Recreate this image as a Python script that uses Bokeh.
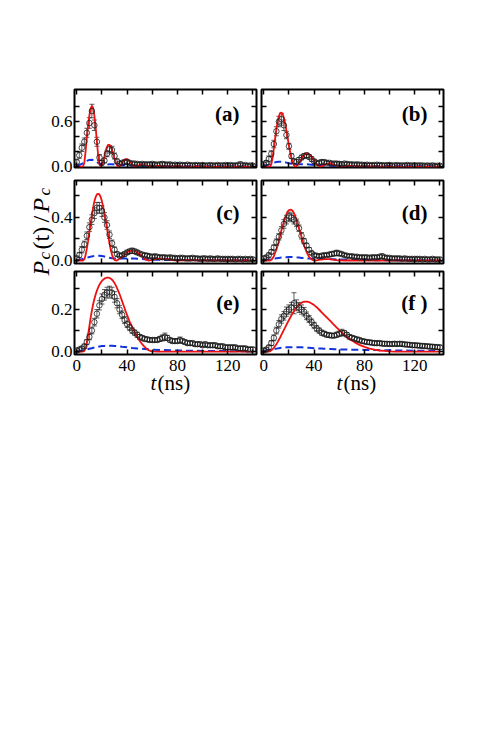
import math
from bokeh.plotting import figure
from bokeh.models import (Range1d, FixedTicker, PrintfTickFormatter, LinearAxis,
                          Label, Whisker, ColumnDataSource, TeeHead, CustomJSTickFormatter)
from bokeh.core.properties import value
from bokeh.layouts import column, row
from bokeh.embed import file_html
from bokeh.resources import INLINE

# ---------------- data ----------------
t_data = list(range(0, 141, 2))                               # measured points (ns)
t_fit = list(range(0, 61)) + list(range(64, 141, 4))          # red model curve
t_blue = list(range(0, 61, 2)) + list(range(70, 141, 10))     # blue dashed curve

data_a = [0.06, 0.15, 0.25, 0.33, 0.45, 0.58, 0.74, 0.55, 0.33, 0.12,
          0.05, 0.08, 0.17, 0.23, 0.22, 0.14, 0.07, 0.04, 0.05, 0.06,
          0.06, 0.05, 0.04, 0.04, 0.035, 0.03, 0.035, 0.03, 0.03, 0.03,
          0.035, 0.03, 0.025, 0.03, 0.035, 0.03, 0.025, 0.03, 0.02, 0.025,
          0.02, 0.025, 0.02, 0.02, 0.025, 0.02, 0.015, 0.02, 0.02, 0.015,
          0.02, 0.015, 0.015, 0.02, 0.015, 0.015, 0.02, 0.015, 0.015, 0.02,
          0.015, 0.02, 0.015, 0.015, 0.02, 0.03, 0.015, 0.02, 0.01, 0.015,
          0.01]
err_a = [0.03, 0.04, 0.05, 0.05, 0.06, 0.07, 0.09, 0.07, 0.06, 0.04,
         0.03, 0.03, 0.04, 0.05, 0.05, 0.04, 0.03, 0.02, 0.02, 0.025,
         0.025, 0.02, 0.02, 0.02, 0.02, 0.02, 0.02, 0.02, 0.02, 0.02,
         0.02, 0.02, 0.02, 0.02, 0.025, 0.02, 0.02, 0.02, 0.02, 0.02,
         0.02, 0.02, 0.02, 0.02, 0.02, 0.02, 0.02, 0.02, 0.02, 0.02,
         0.02, 0.02, 0.02, 0.02, 0.02, 0.02, 0.02, 0.02, 0.02, 0.02,
         0.02, 0.02, 0.02, 0.02, 0.02, 0.03, 0.02, 0.02, 0.02, 0.02,
         0.02]
red_a = [0, 0, 0, 0, 0, 0, 0.05, 0.2, 0.38, 0.55,
         0.68, 0.77, 0.81, 0.78, 0.68, 0.52, 0.33, 0.15, 0.03, 0.0,
         0.02, 0.07, 0.14, 0.21, 0.26, 0.29, 0.29, 0.27, 0.22, 0.16,
         0.1, 0.05, 0.015, 0.0, 0.005, 0.02, 0.045, 0.07, 0.09, 0.1,
         0.1, 0.09, 0.07, 0.05, 0.03, 0.012, 0.003, 0.0, 0.004, 0.012,
         0.02, 0.028, 0.032, 0.03, 0.025, 0.017, 0.008, 0.002, 0.0, 0.002,
         0.006,
         0.01, 0.005, 0.002, 0.003, 0.004, 0.002, 0.0, 0.001, 0.002, 0.001,
         0.0, 0.0, 0.0, 0.0, 0.0, 0.0, 0.0, 0.0, 0.0, 0.0]
blue_a = [0.015, 0.02, 0.035, 0.055, 0.075, 0.088, 0.09, 0.08, 0.06, 0.04,
          0.028, 0.025, 0.027, 0.03, 0.03, 0.028, 0.024, 0.02, 0.018, 0.017,
          0.016, 0.014, 0.012, 0.01, 0.009, 0.008, 0.007, 0.006, 0.006, 0.005,
          0.005,
          0.004, 0.003, 0.003, 0.003, 0.003, 0.003, 0.003, 0.003]

data_b = [0.03, 0.05, 0.1, 0.17, 0.3, 0.47, 0.6, 0.63, 0.55, 0.42,
          0.27, 0.14, 0.07, 0.06, 0.09, 0.12, 0.14, 0.15, 0.13, 0.1,
          0.07, 0.05, 0.05, 0.06, 0.06, 0.05, 0.05, 0.04, 0.04, 0.04,
          0.035, 0.03, 0.04, 0.035, 0.03, 0.03, 0.025, 0.03, 0.025, 0.025,
          0.02, 0.025, 0.02, 0.02, 0.02, 0.025, 0.02, 0.02, 0.015, 0.02,
          0.02, 0.015, 0.015, 0.02, 0.015, 0.015, 0.015, 0.02, 0.015, 0.015,
          0.015, 0.015, 0.015, 0.015, 0.01, 0.015, 0.01, 0.015, 0.01, 0.01,
          0.01]
err_b = [0.03, 0.03, 0.04, 0.04, 0.05, 0.06, 0.07, 0.08, 0.07, 0.05,
         0.04, 0.03, 0.03, 0.03, 0.03, 0.03, 0.03, 0.03, 0.03, 0.03,
         0.025, 0.02, 0.02, 0.03, 0.025, 0.02, 0.02, 0.02, 0.02, 0.02,
         0.03, 0.02, 0.02, 0.02, 0.02, 0.02, 0.02, 0.02, 0.02, 0.02,
         0.02, 0.02, 0.02, 0.02, 0.02, 0.02, 0.02, 0.02, 0.02, 0.02,
         0.02, 0.02, 0.02, 0.02, 0.02, 0.02, 0.02, 0.02, 0.02, 0.02,
         0.02, 0.02, 0.02, 0.02, 0.02, 0.02, 0.02, 0.02, 0.02, 0.02,
         0.02]
red_b = [0, 0, 0, 0, 0, 0, 0.03, 0.12, 0.24, 0.37,
         0.5, 0.6, 0.67, 0.71, 0.72, 0.7, 0.65, 0.57, 0.48, 0.38,
         0.28, 0.19, 0.11, 0.05, 0.015, 0.0, 0.005, 0.02, 0.045, 0.075,
         0.1, 0.13, 0.15, 0.165, 0.172, 0.172, 0.165, 0.15, 0.13, 0.105,
         0.08, 0.055, 0.033, 0.016, 0.005, 0.0, 0.003, 0.01, 0.02, 0.028,
         0.035, 0.04, 0.042, 0.041, 0.037, 0.03, 0.022, 0.014, 0.007, 0.002,
         0.0,
         0.005, 0.01, 0.005, 0.001, 0.002, 0.003, 0.002, 0.0, 0.001, 0.001,
         0.0, 0.0, 0.0, 0.0, 0.0, 0.0, 0.0, 0.0, 0.0, 0.0]
blue_b = [0.01, 0.015, 0.025, 0.038, 0.05, 0.06, 0.065, 0.065, 0.06, 0.052,
          0.043, 0.036, 0.032, 0.03, 0.03, 0.03, 0.03, 0.029, 0.027, 0.024,
          0.02, 0.017, 0.014, 0.012, 0.011, 0.01, 0.01, 0.009, 0.008, 0.007,
          0.006,
          0.005, 0.004, 0.004, 0.003, 0.003, 0.003, 0.003, 0.003]

data_c = [0.02, 0.05, 0.1, 0.15, 0.23, 0.31, 0.38, 0.44, 0.49, 0.49,
          0.46, 0.4, 0.33, 0.24, 0.16, 0.1, 0.06, 0.045, 0.05, 0.06,
          0.075, 0.085, 0.09, 0.085, 0.075, 0.065, 0.055, 0.05, 0.045, 0.04,
          0.035, 0.04, 0.035, 0.03, 0.03, 0.03, 0.025, 0.03, 0.025, 0.025,
          0.02, 0.025, 0.025, 0.02, 0.02, 0.02, 0.025, 0.02, 0.02, 0.015,
          0.02, 0.02, 0.015, 0.02, 0.015, 0.015, 0.02, 0.015, 0.015, 0.015,
          0.015, 0.015, 0.015, 0.01, 0.015, 0.015, 0.01, 0.015, 0.01, 0.015,
          0.01]
err_c = [0.02, 0.025, 0.03, 0.03, 0.035, 0.04, 0.045, 0.05, 0.05, 0.05,
         0.05, 0.045, 0.04, 0.035, 0.03, 0.025, 0.02, 0.015, 0.015, 0.02,
         0.02, 0.02, 0.025, 0.02, 0.02, 0.015, 0.015, 0.015, 0.02, 0.015,
         0.015, 0.015, 0.015, 0.015, 0.015, 0.015, 0.015, 0.015, 0.015, 0.015,
         0.015, 0.015, 0.015, 0.015, 0.015, 0.02, 0.015, 0.015, 0.015, 0.015,
         0.015, 0.015, 0.015, 0.015, 0.015, 0.015, 0.015, 0.015, 0.015, 0.015,
         0.015, 0.015, 0.015, 0.015, 0.015, 0.015, 0.015, 0.015, 0.015, 0.015,
         0.015]
red_c = [0, 0, 0, 0, 0, 0, 0.01, 0.05, 0.11, 0.18,
         0.26, 0.34, 0.42, 0.49, 0.55, 0.59, 0.615, 0.62, 0.615, 0.59,
         0.55, 0.5, 0.44, 0.37, 0.3, 0.23, 0.16, 0.1, 0.055, 0.022,
         0.005, 0.0, 0.002, 0.008, 0.016, 0.026, 0.037, 0.048, 0.058, 0.068,
         0.076, 0.082, 0.087, 0.09, 0.091, 0.09, 0.087, 0.082, 0.075, 0.066,
         0.056, 0.045, 0.034, 0.024, 0.015, 0.008, 0.003, 0.0, 0.001, 0.003,
         0.006,
         0.015, 0.018, 0.012, 0.004, 0.0, 0.002, 0.003, 0.002, 0.001, 0.0,
         0.0, 0.0, 0.0, 0.0, 0.0, 0.0, 0.0, 0.0, 0.0, 0.0]
blue_c = [0.005, 0.008, 0.012, 0.018, 0.025, 0.032, 0.038, 0.043, 0.045, 0.045,
          0.042, 0.037, 0.031, 0.025, 0.021, 0.019, 0.018, 0.018, 0.018, 0.019,
          0.019, 0.019, 0.019, 0.018, 0.017, 0.015, 0.013, 0.011, 0.009, 0.008,
          0.007,
          0.005, 0.004, 0.003, 0.003, 0.002, 0.002, 0.002, 0.002]

data_d = [0.02, 0.03, 0.05, 0.08, 0.12, 0.17, 0.22, 0.28, 0.34, 0.38,
          0.41, 0.4, 0.38, 0.35, 0.3, 0.23, 0.18, 0.14, 0.1, 0.07,
          0.05, 0.045, 0.04, 0.045, 0.05, 0.05, 0.055, 0.06, 0.065, 0.07,
          0.065, 0.06, 0.05, 0.045, 0.04, 0.04, 0.035, 0.035, 0.03, 0.03,
          0.03, 0.03, 0.025, 0.03, 0.03, 0.03, 0.035, 0.04, 0.03, 0.025,
          0.025, 0.02, 0.02, 0.02, 0.02, 0.015, 0.02, 0.015, 0.015, 0.015,
          0.015, 0.015, 0.015, 0.01, 0.015, 0.01, 0.01, 0.015, 0.01, 0.01,
          0.01]
err_d = [0.015, 0.015, 0.02, 0.02, 0.025, 0.03, 0.03, 0.035, 0.04, 0.04,
         0.04, 0.04, 0.04, 0.035, 0.03, 0.03, 0.025, 0.02, 0.02, 0.015,
         0.015, 0.015, 0.015, 0.015, 0.015, 0.015, 0.02, 0.02, 0.02, 0.025,
         0.02, 0.015, 0.015, 0.015, 0.015, 0.015, 0.015, 0.015, 0.015, 0.015,
         0.015, 0.015, 0.015, 0.015, 0.015, 0.015, 0.015, 0.02, 0.015, 0.015,
         0.015, 0.015, 0.015, 0.015, 0.015, 0.015, 0.015, 0.015, 0.015, 0.015,
         0.015, 0.015, 0.015, 0.015, 0.015, 0.015, 0.015, 0.015, 0.015, 0.015,
         0.015]
red_d = [0, 0, 0, 0, 0, 0, 0.005, 0.02, 0.04, 0.07,
         0.1, 0.14, 0.18, 0.23, 0.28, 0.32, 0.36, 0.4, 0.43, 0.455,
         0.468, 0.472, 0.47, 0.46, 0.44, 0.41, 0.38, 0.34, 0.3, 0.26,
         0.22, 0.18, 0.14, 0.11, 0.08, 0.055, 0.035, 0.02, 0.01, 0.004,
         0.001, 0.0, 0.001, 0.003, 0.005, 0.007, 0.009, 0.011, 0.012, 0.013,
         0.013, 0.013, 0.012, 0.011, 0.01, 0.008, 0.006, 0.004, 0.003, 0.002,
         0.001,
         0.0, 0.0, 0.0, 0.0, 0.0, 0.0, 0.0, 0.0, 0.0, 0.0,
         0.0, 0.0, 0.0, 0.0, 0.0, 0.0, 0.0, 0.0, 0.0, 0.0]
blue_d = [0.003, 0.005, 0.008, 0.012, 0.016, 0.02, 0.024, 0.027, 0.03, 0.031,
          0.032, 0.032, 0.031, 0.029, 0.027, 0.024, 0.022, 0.02, 0.018, 0.017,
          0.016, 0.015, 0.015, 0.015, 0.014, 0.014, 0.013, 0.012, 0.011, 0.01,
          0.009,
          0.006, 0.004, 0.003, 0.002, 0.002, 0.002, 0.002, 0.002]

data_e = [0.005, 0.01, 0.015, 0.025, 0.045, 0.07, 0.1, 0.14, 0.18, 0.22,
          0.25, 0.27, 0.28, 0.285, 0.28, 0.26, 0.23, 0.2, 0.175, 0.15,
          0.13, 0.115, 0.1, 0.09, 0.08, 0.07, 0.065, 0.06, 0.058, 0.055,
          0.055, 0.055, 0.055, 0.06, 0.065, 0.07, 0.065, 0.055, 0.05, 0.05,
          0.05, 0.055, 0.05, 0.045, 0.04, 0.04, 0.04, 0.035, 0.035, 0.035,
          0.03, 0.035, 0.03, 0.03, 0.03, 0.03, 0.025, 0.025, 0.025, 0.02,
          0.02, 0.02, 0.02, 0.02, 0.015, 0.015, 0.015, 0.015, 0.01, 0.01,
          0.01]
err_e = [0.008, 0.008, 0.01, 0.01, 0.012, 0.014, 0.016, 0.018, 0.02, 0.022,
         0.024, 0.025, 0.026, 0.026, 0.026, 0.025, 0.022, 0.02, 0.018, 0.016,
         0.015, 0.014, 0.013, 0.012, 0.012, 0.011, 0.011, 0.01, 0.01, 0.01,
         0.01, 0.01, 0.01, 0.012, 0.014, 0.018, 0.012, 0.01, 0.01, 0.01,
         0.01, 0.014, 0.01, 0.01, 0.01, 0.01, 0.01, 0.01, 0.01, 0.01,
         0.01, 0.01, 0.01, 0.01, 0.01, 0.01, 0.01, 0.01, 0.01, 0.01,
         0.01, 0.01, 0.01, 0.01, 0.01, 0.01, 0.01, 0.01, 0.01, 0.01,
         0.01]
red_e = [0, 0, 0, 0, 0, 0, 0.003, 0.015, 0.04, 0.08,
         0.12, 0.16, 0.195, 0.225, 0.25, 0.272, 0.29, 0.305, 0.318, 0.328,
         0.336, 0.342, 0.347, 0.35, 0.352, 0.352, 0.35, 0.347, 0.342, 0.335,
         0.326, 0.315, 0.302, 0.288, 0.273, 0.257, 0.24, 0.223, 0.206, 0.189,
         0.173, 0.158, 0.143, 0.13, 0.117, 0.104, 0.092, 0.081, 0.07, 0.06,
         0.051, 0.043, 0.035, 0.028, 0.022, 0.016, 0.011, 0.007, 0.004, 0.002,
         0.001,
         0.0, 0.0, 0.0, 0.0, 0.0, 0.0, 0.0, 0.0, 0.0, 0.0,
         0.0, 0.0, 0.0, 0.0, 0.0, 0.0, 0.0, 0.0, 0.0, 0.0]
blue_e = [0.002, 0.003, 0.005, 0.007, 0.01, 0.013, 0.016, 0.019, 0.022, 0.024,
          0.026, 0.027, 0.028, 0.028, 0.028, 0.027, 0.026, 0.025, 0.023, 0.022,
          0.02, 0.019, 0.017, 0.016, 0.015, 0.014, 0.013, 0.012, 0.011, 0.01,
          0.009,
          0.007, 0.005, 0.004, 0.003, 0.003, 0.002, 0.002, 0.002]

data_f = [0.005, 0.01, 0.02, 0.04, 0.065, 0.1, 0.13, 0.155, 0.17, 0.19,
          0.2, 0.21, 0.23, 0.22, 0.21, 0.2, 0.19, 0.17, 0.155, 0.14,
          0.125, 0.11, 0.1, 0.09, 0.085, 0.08, 0.078, 0.076, 0.076, 0.08,
          0.085, 0.09, 0.088, 0.08, 0.07, 0.066, 0.062, 0.058, 0.055, 0.05,
          0.048, 0.045, 0.044, 0.042, 0.04, 0.04, 0.04, 0.038, 0.037, 0.037,
          0.036, 0.036, 0.037, 0.036, 0.037, 0.036, 0.034, 0.033, 0.032, 0.03,
          0.03, 0.029, 0.028, 0.027, 0.026, 0.025, 0.024, 0.023, 0.022, 0.021,
          0.02]
err_f = [0.008, 0.008, 0.01, 0.012, 0.014, 0.016, 0.018, 0.02, 0.02, 0.022,
         0.022, 0.024, 0.05, 0.026, 0.024, 0.022, 0.02, 0.018, 0.016, 0.015,
         0.014, 0.013, 0.012, 0.012, 0.011, 0.011, 0.01, 0.01, 0.01, 0.012,
         0.012, 0.016, 0.012, 0.01, 0.01, 0.01, 0.01, 0.01, 0.01, 0.01,
         0.01, 0.01, 0.01, 0.01, 0.01, 0.01, 0.01, 0.01, 0.01, 0.01,
         0.01, 0.01, 0.01, 0.01, 0.01, 0.01, 0.01, 0.01, 0.01, 0.01,
         0.01, 0.01, 0.01, 0.01, 0.01, 0.01, 0.01, 0.01, 0.01, 0.01,
         0.01]
red_f = [0, 0, 0, 0, 0, 0.002, 0.006, 0.011, 0.018, 0.026,
         0.035, 0.045, 0.056, 0.067, 0.079, 0.091, 0.103, 0.115, 0.127, 0.139,
         0.15, 0.161, 0.172, 0.183, 0.193, 0.202, 0.21, 0.217, 0.223, 0.228,
         0.232, 0.235, 0.237, 0.238, 0.238, 0.237, 0.235, 0.232, 0.229, 0.225,
         0.221, 0.216, 0.211, 0.205, 0.199, 0.193, 0.187, 0.181, 0.175, 0.169,
         0.163, 0.157, 0.151, 0.145, 0.139, 0.132, 0.126, 0.12, 0.114, 0.108,
         0.102,
         0.08, 0.06, 0.045, 0.032, 0.022, 0.014, 0.009, 0.005, 0.003, 0.001,
         0.0, 0.0, 0.0, 0.0, 0.0, 0.0, 0.0, 0.0, 0.0, 0.0]
blue_f = [0.002, 0.004, 0.006, 0.009, 0.012, 0.014, 0.016, 0.018, 0.019, 0.02,
          0.021, 0.021, 0.021, 0.021, 0.02, 0.02, 0.019, 0.018, 0.018, 0.017,
          0.016, 0.015, 0.015, 0.014, 0.013, 0.013, 0.012, 0.012, 0.011, 0.011,
          0.01,
          0.009, 0.008, 0.007, 0.006, 0.005, 0.004, 0.004, 0.003]

panel_names = ["(a)", "(b)", "(c)", "(d)", "(e)", "(f )"]
x_major = [0, 40, 80, 120]
x_minor = [20, 60, 100, 140]
y_major = [[0, 0.6], [0, 0.4], [0, 0.2]]
y_minor = [[0.2, 0.4, 0.8], [0.2, 0.6], [0.1, 0.3]]
y_ranges = [(-0.013, 1.027), (-0.028, 0.744), (-0.014, 0.381)]

# ---------------- layout / style ----------------
SERIF = "'Liberation Serif', 'Times New Roman', serif"
FW = 182
FH = [78, 83, 83]
B_TOP = [89, 7, 4]
B_BOT = [14, 14, 22]
ROW_LIFT = [0, 8, 10]   # rows overlap the (empty) bottom border of the row above
YLAB_W = 80             # label canvas, overlapped by the grid on its right
YLAB_OVERLAP = 34       # -> grid starts at x = 46
LEFT_B = 28
XLAB_H = 30
XLAB_LIFT = 9
TICK_FS = "17px"
RED = "#ee1111"
BLUE = "#1133dd"
INK = "#1a1a1a"

series = [(data_a, err_a, red_a, blue_a), (data_b, err_b, red_b, blue_b),
          (data_c, err_c, red_c, blue_c), (data_d, err_d, red_d, blue_d),
          (data_e, err_e, red_e, blue_e), (data_f, err_f, red_f, blue_f)]

blank_fmt = CustomJSTickFormatter(code="return ''")


def style_axis(ax, major, minor, show_labels, fmt=None):
    ax.ticker = FixedTicker(ticks=major, minor_ticks=minor)
    ax.axis_line_color = None
    ax.major_tick_in = 5
    ax.major_tick_out = 0
    ax.minor_tick_in = 5
    ax.minor_tick_out = 0
    ax.major_tick_line_width = 1.5
    ax.minor_tick_line_width = 1.5
    ax.major_tick_line_color = "black"
    ax.minor_tick_line_color = "black"
    ax.major_label_text_font = SERIF
    ax.major_label_text_font_size = TICK_FS
    ax.major_label_text_color = "black"
    if show_labels:
        if fmt is not None:
            ax.formatter = fmt
    else:
        ax.formatter = blank_fmt
        ax.major_label_standoff = 0


def make_panel(idx):
    r, c = divmod(idx, 2)
    d, e, red, blue = series[idx]
    p = figure(frame_width=FW, frame_height=FH[r], output_backend="svg",
               toolbar_location=None,
               x_range=Range1d(-1.8, 142.8), y_range=Range1d(*y_ranges[r]),
               min_border_left=LEFT_B if c == 0 else 3,
               min_border_right=2 if c == 0 else 20,
               min_border_top=B_TOP[r], min_border_bottom=B_BOT[r])
    p.xgrid.visible = False
    p.ygrid.visible = False
    p.outline_line_color = "black"
    p.outline_line_width = 2
    p.background_fill_color = "white"
    p.border_fill_color = None

    style_axis(p.xaxis[0], x_major, x_minor, r == 2)
    if r == 2:
        p.xaxis[0].major_label_standoff = 5
    style_axis(p.yaxis[0], y_major[r], y_minor[r], c == 0,
               PrintfTickFormatter(format="%.1f"))
    if c == 0:
        p.yaxis[0].major_label_standoff = 2
    top = LinearAxis()
    style_axis(top, x_major, x_minor, False)
    p.add_layout(top, "above")
    right = LinearAxis()
    style_axis(right, y_major[r], y_minor[r], False)
    p.add_layout(right, "right")

    p.line(t_blue, blue, line_color=BLUE, line_width=2, line_dash="7 4")
    p.line(t_fit, red, line_color=RED, line_width=1.8)

    src = ColumnDataSource(dict(t=t_data, y=d,
                                up=[v + s for v, s in zip(d, e)],
                                lo=[v - s for v, s in zip(d, e)]))
    p.add_layout(Whisker(base="t", upper="up", lower="lo", source=src,
                         line_color=INK, line_width=0.7,
                         upper_head=TeeHead(size=5, line_color=INK, line_width=0.7),
                         lower_head=TeeHead(size=5, line_color=INK, line_width=0.7)))
    p.scatter("t", "y", source=src, marker="circle", size=5.5, fill_color=None,
              line_color=INK, line_width=0.8)

    p.add_layout(Label(x=FW - (17 if c == 0 else 16), y=FH[r] - [24, 32, 31][r],
                       x_units="screen", y_units="screen", text=panel_names[idx],
                       text_font=SERIF, text_font_style="bold", text_font_size="21px",
                       text_align="right", text_baseline="middle", text_color="black"))
    return p


panels = [make_panel(i) for i in range(6)]
GRID_X0 = YLAB_W - YLAB_OVERLAP
GRID_W = (LEFT_B + FW + 2) + (3 + FW + 20)
GRID_H = sum(B_TOP) + sum(FH) + sum(B_BOT) - sum(ROW_LIFT)
TOTAL_H = GRID_H + XLAB_H


def text_fig(w, h, **kw):
    f = figure(width=w, height=h, output_backend="svg", toolbar_location=None,
               x_range=Range1d(0, w), y_range=Range1d(0, h),
               x_axis_type=None, y_axis_type=None,
               min_border=0, min_border_left=0, min_border_right=0,
               min_border_top=0, min_border_bottom=0, **kw)
    f.grid.visible = False
    f.outline_line_color = None
    f.background_fill_color = None
    f.border_fill_color = None
    return f


# y-axis label  P_c(t)/P_c  (rotated, reads bottom -> top); page px positions
ylab = text_fig(YLAB_W, TOTAL_H, margin=(0, -YLAB_OVERLAP, 0, 0))
ypieces = [("P", "italic", 24, 40, 275), ("c", "italic", 17, 44, 259),
           ("(t)", "normal", 24, 40, 249), ("/", "normal", 24, 40, 222),
           ("P", "italic", 24, 40, 212), ("c", "italic", 17, 44, 195)]
for txt, st, fs, px, py in ypieces:
    ylab.text(x=[px], y=[TOTAL_H - py], text=[txt], angle=math.pi / 2,
              text_font=value(SERIF), text_font_style=st, text_font_size=f"{fs}px",
              text_align="left", text_baseline="alphabetic", text_color="black")

# x-axis labels  t(ns)  (x in page px)
xlab = text_fig(GRID_W, XLAB_H, margin=(-XLAB_LIFT, 0, 0, 0))
XB = XLAB_H - 15
for xs in (150 - GRID_X0, 336 - GRID_X0):
    xlab.text(x=[xs], y=[XB], text=["t"], text_font=value(SERIF),
              text_font_style="italic", text_font_size="21px",
              text_align="left", text_baseline="alphabetic", text_color="black")
    xlab.text(x=[xs + 7], y=[XB], text=["(ns)"],
              text_font=value(SERIF), text_font_size="21px", text_align="left",
              text_baseline="alphabetic", text_color="black")

rows = [row(panels[2 * i], panels[2 * i + 1], margin=(-ROW_LIFT[i], 0, 0, 0))
        for i in range(3)]
grid = column(rows[0], rows[1], rows[2], xlab)
layout = row(ylab, grid)
open("out.html", "w").write(file_html(layout, INLINE))
